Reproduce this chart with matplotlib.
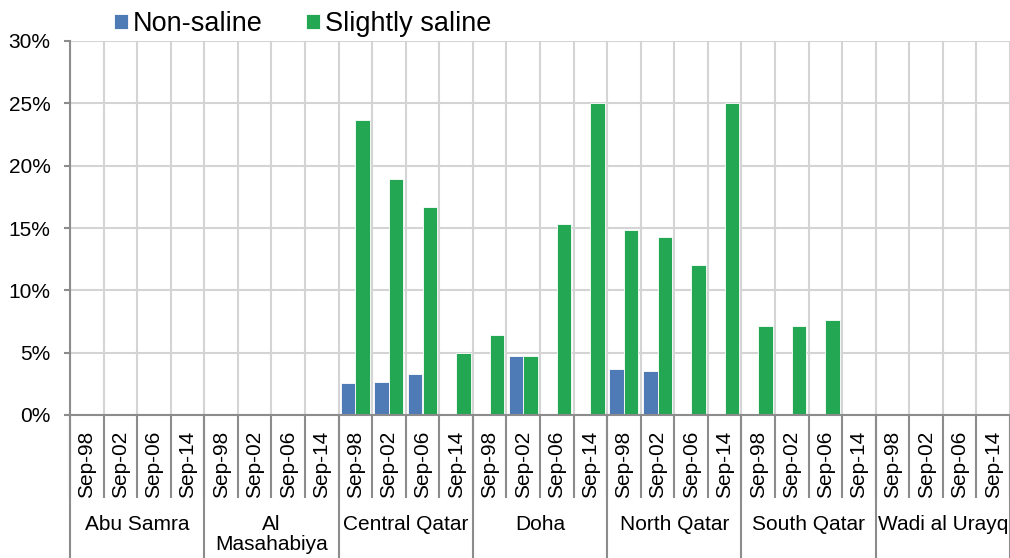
import matplotlib
matplotlib.use("Agg")
import matplotlib.pyplot as plt
import matplotlib.ticker as mtick
import matplotlib.transforms as mtrans
import numpy as np

plt.rcParams['font.family'] = ['Liberation Sans', 'DejaVu Sans']

groups = ["Abu Samra", "Al\nMasahabiya", "Central Qatar", "Doha",
          "North Qatar", "South Qatar", "Wadi al Urayq"]
periods = ["Sep-98", "Sep-02", "Sep-06", "Sep-14"]

# percent of wells, per group and period
non_saline = [0, 0, 0, 0,
              0, 0, 0, 0,
              2.55, 2.65, 3.3, 0,
              0, 4.75, 0, 0,
              3.65, 3.55, 0, 0,
              0, 0, 0, 0,
              0, 0, 0, 0]
slightly_saline = [0, 0, 0, 0,
                   0, 0, 0, 0,
                   23.7, 18.9, 16.65, 5.0,
                   6.4, 4.75, 15.35, 25.0,
                   14.8, 14.3, 12.0, 25.0,
                   7.1, 7.1, 7.65, 0,
                   0, 0, 0, 0]

blue = "#4e7bb6"
green = "#23a752"
axis_grey = "#8c8c8c"
grid_grey = "#d4d4d4"

W, H = 1010, 558
fig = plt.figure(figsize=(W / 100, H / 100), dpi=100)
ax = fig.add_axes([70 / W, (H - 415) / H, 940 / W, 374 / H])

n = len(groups) * len(periods)
x = np.arange(n) + 0.5
bw = 0.43
b1 = ax.bar(x - bw / 2, non_saline, bw, color=blue, edgecolor="white",
            linewidth=0.6, label="Non-saline", zorder=2)
b2 = ax.bar(x + bw / 2, slightly_saline, bw, color=green, edgecolor="white",
            linewidth=0.6, label="Slightly saline", zorder=2)

ax.set_xlim(0, n)
ax.set_ylim(0, 30)
ax.yaxis.set_major_locator(mtick.MultipleLocator(5))
ax.yaxis.set_major_formatter(mtick.FormatStrFormatter('%.0f%%'))

# category labels and separators
ax.set_xticks(x)
ax.set_xticklabels(periods * len(groups), rotation=90, fontsize=15)
ax.set_xticks(np.arange(n + 1), minor=True)
ax.tick_params(axis='x', which='major', length=0, pad=11)
ax.tick_params(axis='x', which='minor', length=60, width=1.5, color=axis_grey)
ax.tick_params(axis='y', which='major', length=4, width=1.5, color=axis_grey,
               labelsize=15, pad=10)

ax.grid(axis='y', color=grid_grey, linewidth=1.5)
ax.grid(axis='x', which='minor', color=grid_grey, linewidth=1.5)
ax.set_axisbelow(True)

for side in ["top", "right"]:
    ax.spines[side].set_visible(False)
for side in ["left", "bottom"]:
    ax.spines[side].set_color(axis_grey)
    ax.spines[side].set_linewidth(1.5)

# group separators and names
trans = mtrans.blended_transform_factory(ax.transData, ax.transAxes)
depth = 143 / 374
for k in range(len(groups) + 1):
    ax.plot([k * 4, k * 4], [0, -depth], transform=trans, color=axis_grey,
            linewidth=1.5, clip_on=False)
for k, g in enumerate(groups):
    ax.text(k * 4 + 2, -(100 / 374), g, transform=trans, ha='center',
            va='top', fontsize=15, linespacing=1.05)

fig.legend(handles=[b1, b2], ncol=2, loc='center left',
           bbox_to_anchor=(114 / W, 1 - 24 / H), frameon=False,
           fontsize=19.5, handlelength=0.5, handleheight=0.5,
           handletextpad=0.2, columnspacing=1.6, borderpad=0,
           borderaxespad=0)

fig.savefig("out.png", dpi=100, facecolor="white")
